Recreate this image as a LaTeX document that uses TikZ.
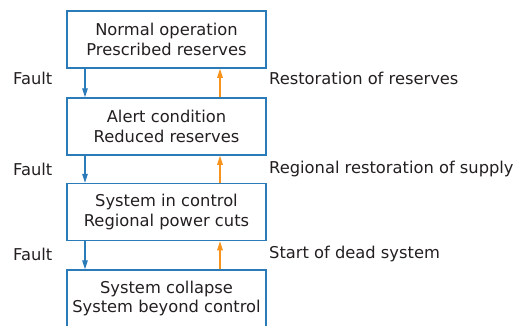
\documentclass[tikz,border=0pt]{standalone}
\usepackage{fontspec}
\setmainfont{DejaVu Sans}
\usetikzlibrary{arrows.meta}
\definecolor{boxblue}{HTML}{2B7BB9}
\definecolor{arrorange}{HTML}{F7941D}
\definecolor{txt}{HTML}{231F20}
\tikzset{
  statebox/.style={draw=boxblue, line width=1.5pt, minimum width=199pt, minimum height=57pt,
    align=center, inner sep=0pt, text=txt, font=\fontsize{16.3}{19.5}\selectfont},
  faultarr/.style={draw=boxblue, line width=1.2pt, -{Triangle[length=9pt,width=5.5pt]}},
  restarr/.style={draw=arrorange, line width=1.2pt, -{Triangle[length=9pt,width=5.5pt]}},
  lbl/.style={anchor=west, inner sep=0pt, text=txt, font=\fontsize{16.3}{19.5}\selectfont}
}
\begin{document}
\begin{tikzpicture}[x=1pt,y=-1pt]
\useasboundingbox (0,0) rectangle (519,325);
\clip (0,0) rectangle (519,325);
\node[statebox] (b1) at (166.5,39.5) {Normal operation\\Prescribed reserves};
\node[statebox] (b2) at (166.5,126.5) {Alert condition\\Reduced reserves};
\node[statebox] (b3) at (166.5,212) {System in control\\Regional power cuts};
\node[statebox] (b4) at (166.5,298.5) {System collapse\\System beyond control};
\draw[faultarr] (b1.south -| 85,0) -- (b2.north -| 85,0);
\draw[faultarr] (b2.south -| 85,0) -- (b3.north -| 85,0);
\draw[faultarr] (b3.south -| 85,0) -- (b4.north -| 85,0);
\draw[restarr] (b2.north -| 220,0) -- (b1.south -| 220,0);
\draw[restarr] (b3.north -| 220,0) -- (b2.south -| 220,0);
\draw[restarr] (b4.north -| 220,0) -- (b3.south -| 220,0);
\node[lbl] (f1) at (13,78) {Fault};
\node[lbl] (f2) at (13,169) {Fault};
\node[lbl] (f3) at (13,254) {Fault};
\node[lbl] (r1) at (269,78) {Restoration of reserves};
\node[lbl] (r2) at (269,169) {Regional restoration of supply};
\node[lbl] (r3) at (269,254) {Start of dead system};
\end{tikzpicture}
\end{document}
